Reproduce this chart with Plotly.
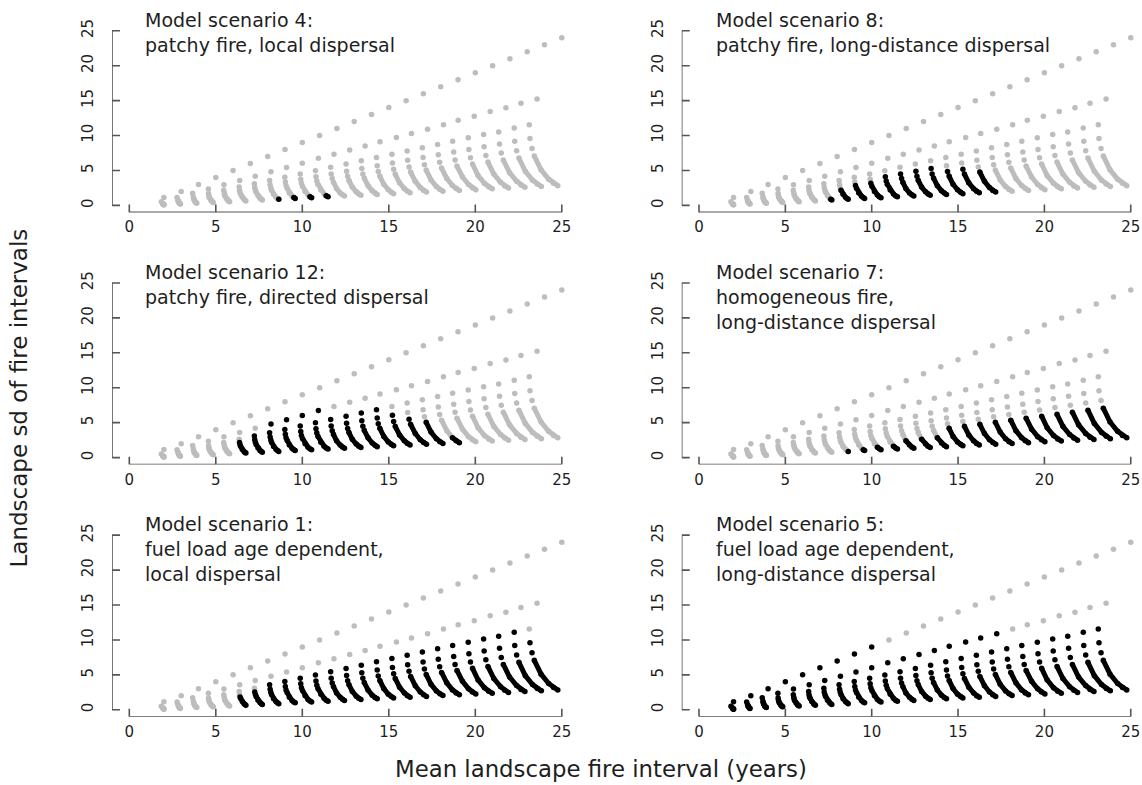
import plotly.graph_objects as go

# ---------------- data ----------------
# ray 1 (top ray), one point per arc j = 1..24
R1X = [2, 3, 4, 5, 6, 7, 8, 9, 10, 11, 12, 13, 14, 15, 16, 17, 18, 19, 20, 21, 22, 23, 24, 25]
R1Y = [1.15, 2, 3, 4, 5, 6, 7, 8, 9, 10, 11, 12, 13, 14, 15, 16, 17, 18, 19, 20, 21, 22, 23, 24]
# the other rays, one point per arc j = 0..24
R2X = [1.85, 2.76, 3.66, 4.57, 5.47, 6.38, 7.28, 8.19, 9.09, 10.0, 10.93, 11.83, 12.74, 13.63, 14.49, 15.44, 16.31, 17.24, 18.16, 19.01, 19.94, 20.86, 21.77, 22.64, 23.57]
R2Y = [0.51, 1.12, 1.74, 2.35, 2.97, 3.58, 4.19, 4.81, 5.42, 6.03, 6.74, 7.31, 7.93, 8.5, 9.1, 9.72, 10.28, 10.9, 11.56, 12.18, 12.75, 13.46, 13.97, 14.63, 15.24]
R3X = [1.93, 2.81, 3.70, 4.58, 5.46, 6.35, 7.23, 8.11, 8.99, 9.88, 10.76, 11.64, 12.53, 13.41, 14.29, 15.18, 16.06, 16.94, 17.82, 18.69, 19.59, 20.48, 21.35, 22.25, 23.12]
R3Y = [0.28, 0.75, 1.22, 1.69, 2.16, 2.63, 3.10, 3.57, 4.04, 4.51, 4.98, 5.45, 5.92, 6.39, 6.86, 7.33, 7.80, 8.27, 8.73, 9.20, 9.67, 10.14, 10.52, 11.09, 11.56]
R4X = [1.95, 2.83, 3.72, 4.60, 5.49, 6.37, 7.25, 8.14, 9.02, 9.91, 10.79, 11.67, 12.56, 13.44, 14.33, 15.21, 16.09, 16.98, 17.86, 18.75, 19.63, 20.51, 21.40, 22.28, 23.16]
R4Y = [0.22, 0.61, 1.00, 1.39, 1.78, 2.17, 2.56, 2.95, 3.34, 3.73, 4.12, 4.51, 4.90, 5.29, 5.68, 6.07, 6.46, 6.85, 7.24, 7.63, 8.02, 8.41, 8.80, 9.19, 9.58]
R5X = [1.96, 2.85, 3.74, 4.62, 5.51, 6.40, 7.29, 8.18, 9.06, 9.95, 10.84, 11.73, 12.62, 13.50, 14.39, 15.28, 16.17, 17.06, 17.94, 18.83, 19.72, 20.61, 21.50, 22.39, 23.28]
R5Y = [0.18, 0.51, 0.85, 1.18, 1.51, 1.84, 2.18, 2.51, 2.84, 3.17, 3.51, 3.84, 4.17, 4.50, 4.84, 5.17, 5.50, 5.83, 6.17, 6.50, 6.83, 7.16, 7.50, 7.83, 8.16]
R6X = [1.97, 2.86, 3.76, 4.65, 5.54, 6.44, 7.33, 8.22, 9.12, 10.01, 10.90, 11.80, 12.69, 13.58, 14.48, 15.37, 16.26, 17.16, 18.05, 18.94, 19.84, 20.73, 21.62, 22.52, 23.41]
R6Y = [0.16, 0.45, 0.74, 1.02, 1.31, 1.60, 1.89, 2.18, 2.47, 2.75, 3.04, 3.33, 3.62, 3.91, 4.20, 4.48, 4.77, 5.06, 5.35, 5.64, 5.93, 6.21, 6.50, 6.79, 7.08]
TAX = [1.98, 2.89, 3.80, 4.71, 5.62, 6.53, 7.44, 8.34, 9.25, 10.16, 11.07, 11.98, 12.89, 13.80, 14.71, 15.62, 16.53, 17.44, 18.35, 19.26, 20.16, 21.07, 21.98, 22.89, 23.80]
TAY = [0.14, 0.35, 0.55, 0.76, 0.97, 1.17, 1.38, 1.59, 1.79, 2.00, 2.21, 2.41, 2.62, 2.83, 3.03, 3.24, 3.45, 3.65, 3.86, 4.07, 4.27, 4.48, 4.69, 4.89, 5.10]
TBX = [1.99, 2.92, 3.84, 4.77, 5.70, 6.63, 7.55, 8.48, 9.41, 10.33, 11.26, 12.19, 13.12, 14.04, 14.97, 15.90, 16.82, 17.75, 18.68, 19.61, 20.53, 21.46, 22.39, 23.31, 24.24]
TBY = [0.12, 0.27, 0.42, 0.58, 0.73, 0.88, 1.03, 1.18, 1.33, 1.49, 1.64, 1.79, 1.94, 2.09, 2.24, 2.40, 2.55, 2.70, 2.85, 3.00, 3.15, 3.31, 3.46, 3.61, 3.76]
TCX = [2.00, 2.94, 3.88, 4.81, 5.75, 6.69, 7.63, 8.57, 9.51, 10.44, 11.38, 12.32, 13.26, 14.20, 15.14, 16.07, 17.01, 17.95, 18.89, 19.83, 20.77, 21.70, 22.64, 23.58, 24.52]
TCY = [0.10, 0.23, 0.36, 0.48, 0.61, 0.74, 0.87, 1.00, 1.13, 1.25, 1.38, 1.51, 1.64, 1.77, 1.90, 2.02, 2.15, 2.28, 2.41, 2.54, 2.67, 2.79, 2.92, 3.05, 3.18]
TEX = [2.00, 2.95, 3.90, 4.85, 5.80, 6.74, 7.69, 8.64, 9.59, 10.54, 11.49, 12.44, 13.39, 14.33, 15.28, 16.23, 17.18, 18.13, 19.08, 20.03, 20.98, 21.92, 22.87, 23.82, 24.77]
TEY = [0.08, 0.19, 0.31, 0.42, 0.54, 0.65, 0.77, 0.88, 1.00, 1.11, 1.23, 1.34, 1.46, 1.57, 1.68, 1.80, 1.91, 2.03, 2.14, 2.26, 2.37, 2.48, 2.60, 2.71, 2.83]

# first black point of each arc (0 = ray 1 ... 9 = tail end, 10 = none black)
MASK_S4 = [10, 10, 10, 10, 10, 10, 10, 9, 8, 8, 8, 10, 10, 10, 10, 10, 10, 10, 10, 10, 10, 10, 10, 10, 10]
MASK_S8 = [10, 10, 10, 10, 10, 10, 8, 5, 4, 4, 3, 3, 3, 3, 4, 4, 5, 10, 10, 10, 10, 10, 10, 10, 10]
MASK_S12 = [10, 10, 10, 10, 10, 3, 2, 1, 1, 1, 1, 2, 2, 2, 2, 3, 4, 5, 7, 10, 10, 10, 10, 10, 10]
MASK_S7 = [10, 10, 10, 10, 10, 10, 10, 9, 8, 7, 7, 6, 6, 6, 5, 5, 5, 5, 5, 5, 5, 5, 5, 5, 5]
MASK_S1 = [10, 10, 10, 10, 10, 4, 3, 2, 2, 2, 2, 2, 2, 2, 2, 2, 2, 2, 2, 2, 2, 2, 2, 2, 3]
MASK_S5 = [0, 0, 0, 0, 0, 0, 0, 0, 0, 0, 1, 1, 1, 1, 1, 1, 1, 1, 2, 2, 2, 2, 2, 2, 2]

TITLES_S4 = ["Model scenario 4:", "patchy fire, local dispersal"]
TITLES_S8 = ["Model scenario 8:", "patchy fire, long-distance dispersal"]
TITLES_S12 = ["Model scenario 12:", "patchy fire, directed dispersal"]
TITLES_S7 = ["Model scenario 7:", "homogeneous fire,", "long-distance dispersal"]
TITLES_S1 = ["Model scenario 1:", "fuel load age dependent,", "local dispersal"]
TITLES_S5 = ["Model scenario 5:", "fuel load age dependent,", "long-distance dispersal"]

TICKS = [0, 5, 10, 15, 20, 25]
X_TITLE = "Mean landscape fire interval (years)"
Y_TITLE = "Landscape sd of fire intervals"

# ---------------- styling ----------------
W, H = 1142, 785
GRAY = "#bdbdbd"
BLACK = "#000000"
AXIS_COL = "#555555"
TEXT_COL = "#1e1e1e"
FONT = "DejaVu Sans"
DOT = 5.5
TAIL_W = 5

RAYS = [(R1X, R1Y), (R2X, R2Y), (R3X, R3Y), (R4X, R4Y), (R5X, R5Y), (R6X, R6Y),
        (TAX, TAY), (TBX, TBY), (TCX, TCY), (TEX, TEY)]


def vertex(r, j):
    xs, ys = RAYS[r]
    if r == 0:
        if j == 0:
            return None
        return xs[j - 1], ys[j - 1]
    return xs[j], ys[j]


# pixel layout
LEFT_X0, LEFT_SX = 129.3, 17.3
RIGHT_X0, RIGHT_SX = 699.0, 17.27
ROW_Y0 = [201.7, 455.5, 709.3]
SY = 7.03

panels = [
    (0, 0, TITLES_S4, MASK_S4),
    (0, 1, TITLES_S8, MASK_S8),
    (1, 0, TITLES_S12, MASK_S12),
    (1, 1, TITLES_S7, MASK_S7),
    (2, 0, TITLES_S1, MASK_S1),
    (2, 1, TITLES_S5, MASK_S5),
]

fig = go.Figure()
layout = dict(
    width=W, height=H, margin=dict(l=0, r=0, t=0, b=0),
    paper_bgcolor="white", plot_bgcolor="white", showlegend=False,
    font=dict(family=FONT, color=TEXT_COL),
)
shapes = []
annotations = []

for i, (row, col, titles, mask) in enumerate(panels):
    n = i + 1
    xa = "x" if n == 1 else f"x{n}"
    ya = "y" if n == 1 else f"y{n}"
    x0, sx = (LEFT_X0, LEFT_SX) if col == 0 else (RIGHT_X0, RIGHT_SX)
    y0 = ROW_Y0[row]
    xlo = -1.0
    xhi = min(26.0, (W - x0) / sx)
    dom_x = [(x0 + xlo * sx) / W, (x0 + xhi * sx) / W]
    dom_y = [1 - (y0 + 1 * SY) / H, 1 - (y0 - 26 * SY) / H]

    layout["xaxis" if n == 1 else f"xaxis{n}"] = dict(
        domain=dom_x, range=[xlo, xhi], anchor=ya, showgrid=False, zeroline=False,
        showline=False, tickmode="array", tickvals=TICKS, ticks="outside", ticklen=1,
        tickcolor="rgba(0,0,0,0)", tickfont=dict(size=15, family=FONT, color=TEXT_COL),
        fixedrange=True)
    layout["yaxis" if n == 1 else f"yaxis{n}"] = dict(
        domain=dom_y, range=[-1, 26], anchor=xa, showgrid=False, zeroline=False,
        showline=False, tickmode="array", tickvals=TICKS, ticks="outside", ticklen=12,
        tickcolor="rgba(0,0,0,0)", tickangle=-90,
        tickfont=dict(size=15, family=FONT, color=TEXT_COL), fixedrange=True)

    # axis lines and inward ticks
    shapes.append(dict(type="line", xref=xa, yref=ya, x0=0, x1=25, y0=-1, y1=-1,
                       line=dict(color=AXIS_COL, width=1.6)))
    shapes.append(dict(type="line", xref=xa, yref=ya, x0=-1, x1=-1, y0=0, y1=25,
                       line=dict(color=AXIS_COL, width=1.6)))
    for t in TICKS:
        shapes.append(dict(type="line", xref=xa, yref=ya, x0=t, x1=t, y0=-1, y1=-1 + 8 / SY,
                           line=dict(color=AXIS_COL, width=1.6)))
        shapes.append(dict(type="line", xref=xa, yref=ya, x0=-1, x1=-1 + 8 / sx, y0=t, y1=t,
                           line=dict(color=AXIS_COL, width=1.6)))

    # points
    dots = {GRAY: ([], []), BLACK: ([], [])}
    tails = {GRAY: ([], []), BLACK: ([], [])}
    for j in range(25):
        b = mask[j]
        for r in range(5):
            v = vertex(r, j)
            if v is None:
                continue
            c = BLACK if r >= b else GRAY
            dots[c][0].append(v[0])
            dots[c][1].append(v[1])
        tail_idx = list(range(5, 10))
        gray_part = [r for r in tail_idx if r <= b] if b > 5 else []
        black_part = [r for r in tail_idx if r >= b] if b <= 9 else []
        for part, c in ((gray_part, GRAY), (black_part, BLACK)):
            if not part:
                continue
            for r in part:
                v = vertex(r, j)
                tails[c][0].append(v[0])
                tails[c][1].append(v[1])
            tails[c][0].append(None)
            tails[c][1].append(None)

    for c in (GRAY, BLACK):
        fig.add_trace(go.Scatter(x=tails[c][0], y=tails[c][1], xaxis=xa, yaxis=ya,
                                 mode="lines+markers", line=dict(color=c, width=TAIL_W),
                                 marker=dict(color=c, size=DOT), hoverinfo="skip",
                                 connectgaps=False))
        fig.add_trace(go.Scatter(x=dots[c][0], y=dots[c][1], xaxis=xa, yaxis=ya,
                                 mode="markers", marker=dict(color=c, size=DOT),
                                 hoverinfo="skip"))

    # panel titles
    tx = (143 if col == 0 else 714) / W
    ty0 = 15 + row * 253.8
    for k, line in enumerate(titles):
        annotations.append(dict(text=line, xref="paper", yref="paper", x=tx,
                                y=1 - (ty0 + 25 * k) / H, xanchor="left", yanchor="middle",
                                showarrow=False, font=dict(size=19, family=FONT, color=TEXT_COL)))

annotations.append(dict(text=X_TITLE, xref="paper", yref="paper", x=601 / W, y=1 - 769 / H,
                        xanchor="center", yanchor="middle", showarrow=False,
                        font=dict(size=22.8, family=FONT, color=TEXT_COL)))
annotations.append(dict(text=Y_TITLE, xref="paper", yref="paper", x=19 / W, y=1 - 396 / H,
                        xanchor="center", yanchor="middle", showarrow=False, textangle=-90,
                        font=dict(size=23, family=FONT, color=TEXT_COL)))

layout["shapes"] = shapes
layout["annotations"] = annotations
fig.update_layout(**layout)
fig.write_html("out.html", config={"displayModeBar": False, "staticPlot": True},
               post_script="document.body.style.margin='0';document.body.style.padding='0';")
